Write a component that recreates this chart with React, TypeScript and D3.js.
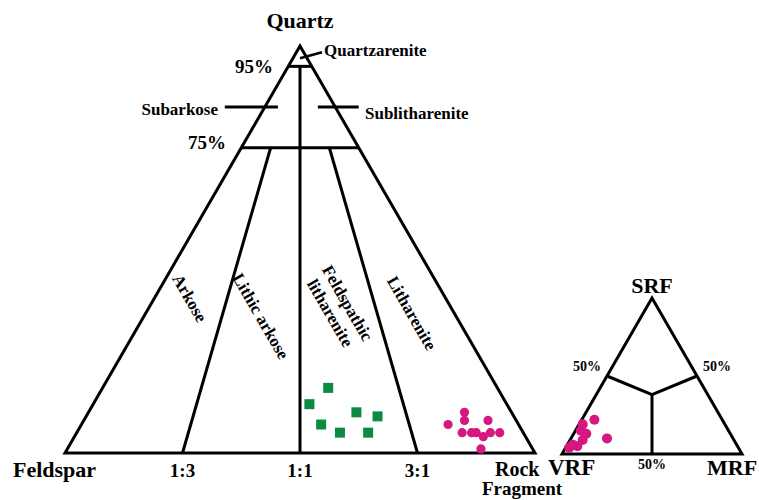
import React from 'react';
import * as d3 from 'd3';

// QFR compositions (percent Quartz, Feldspar, Rock fragment)
const squarePoints: [number, number, number][] = [
  [16, 36, 48], [12, 42, 46], [10, 33, 57], [9, 29, 62], [7, 42, 51], [5, 39, 56], [5, 33, 62],
];
const circlePoints: [number, number, number][] = [
  [10, 10, 80], [8, 11, 81], [8, 6, 86], [7, 15, 78], [5, 13, 82], [5, 11, 84],
  [5, 10, 85], [4, 9, 87], [5, 7, 88], [5, 5, 90], [1, 11, 88],
];
// rock fragment compositions (percent SRF, VRF, MRF)
const rfPoints: [number, number, number][] = [
  [22, 71, 7], [19, 79, 2], [15, 82, 3], [13, 80, 7], [10, 70, 20],
  [9, 84, 7], [6, 91, 3], [5, 89, 6], [4, 94, 2],
];

const quartzLevels = [95, 75];
const ratioLabels = ['1:3', '1:1', '3:1'];
const ratioValues = [0.25, 0.5, 0.75];
const fieldLabels = ['Arkose', 'Lithic arkose', 'Litharenite'];

const FONT = '"Liberation Serif", "Times New Roman", serif';
const GREEN = '#0c8a41';
const PINK = '#d6177f';

// main triangle scales
const mx = d3.scaleLinear().domain([0, 1]).range([65, 535]);
const my = d3.scaleLinear().domain([0, 1]).range([453, 46]);
// top = apex fraction, right = right-vertex fraction
const mainPt = (top: number, right: number): [number, number] => [mx(right + top / 2), my(top)];

// small triangle scales
const sx = d3.scaleLinear().domain([0, 1]).range([562, 742]);
const sy = d3.scaleLinear().domain([0, 1]).range([454, 298]);
const smallPt = (top: number, right: number): [number, number] => [sx(right + top / 2), sy(top)];

const line = d3.line();

const App = () => {
  const W = 759;
  const H = 500;

  const outline = line([mainPt(1, 0), mainPt(0, 0), mainPt(0, 1)]) + 'Z';

  // quartz level lines
  const levelLines = quartzLevels.map(q => {
    const t = q / 100;
    return line([mainPt(t, 0), mainPt(t, 1 - t)]);
  });

  // ratio lines start at 75% (1:1 from 95%)
  const ratioLines = ratioValues.map(r => {
    const top = r === 0.5 ? 0.95 : 0.75;
    return line([mainPt(top, r * (1 - top)), mainPt(0, r)]);
  });

  const subTickL = line([mainPt(0.85, -0.085), mainPt(0.85, 0.028)]);
  const subTickR = line([mainPt(0.85, 0.113), mainPt(0.85, 0.2)]);
  const qaStart = mainPt(0.97, 0.015);
  const qaLeader = line([qaStart, [qaStart[0] + 22, qaStart[1] - 6]]);

  const smallOutline = line([smallPt(1, 0), smallPt(0, 0), smallPt(0, 1)]) + 'Z';
  const junction = smallPt(0.38, 0.31);
  const smallInner = [
    line([smallPt(0.5, 0), junction]),
    line([smallPt(0.5, 0.5), junction]),
    line([smallPt(0, 0.5), junction]),
  ];

  const bottomY = my(0) + 24;
  const fieldPos: [number, number][] = [[190, 298], [261, 316], [412, 313]];

  return (
    <svg width={W} height={H} style={{ position: 'absolute', left: 0, top: 0, background: '#fff' }}
      fontFamily={FONT} fontWeight="bold">
      <g fill="none" stroke="#000" strokeWidth={3} strokeLinejoin="miter">
        <path d={outline} />
        {levelLines.map((d, i) => <path key={'l' + i} d={d!} />)}
        {ratioLines.map((d, i) => <path key={'r' + i} d={d!} />)}
        <path d={subTickL!} />
        <path d={subTickR!} />
        <path d={qaLeader!} strokeWidth={2.5} />
        <path d={smallOutline} />
        {smallInner.map((d, i) => <path key={'s' + i} d={d!} />)}
      </g>

      {squarePoints.map(([q, f, r], i) => {
        const [x, y] = mainPt(q / 100, r / 100);
        return <rect key={'sq' + i} x={x - 5} y={y - 5} width={10} height={10} fill={GREEN} />;
      })}
      {circlePoints.map(([q, f, r], i) => {
        const [x, y] = mainPt(q / 100, r / 100);
        return <circle key={'c' + i} cx={x} cy={y} r={4.6} fill={PINK} />;
      })}
      {rfPoints.map(([s, v, m], i) => {
        const [x, y] = smallPt(s / 100, m / 100);
        return <circle key={'rf' + i} cx={x} cy={y} r={5} fill={PINK} />;
      })}

      {/* main triangle text */}
      <text x={mainPt(1, 0)[0]} y={28} fontSize={22} textAnchor="middle">Quartz</text>
      <text x={324} y={56} fontSize={17}>Quartzarenite</text>
      <text x={273} y={73} fontSize={19} textAnchor="end">95%</text>
      <text x={226} y={149} fontSize={19} textAnchor="end">75%</text>
      <text x={218} y={115} fontSize={17} textAnchor="end">Subarkose</text>
      <text x={365} y={119} fontSize={17}>Sublitharenite</text>

      {fieldLabels.map((t, i) => (
        <text key={'f' + i} transform={`translate(${fieldPos[i][0]},${fieldPos[i][1]}) rotate(60)`}
          fontSize={17} textAnchor="middle" dy="0.35em">{t}</text>
      ))}
      <g transform="translate(339,308) rotate(60)" fontSize={17} textAnchor="middle">
        <text y={-10} dy="0.35em">Feldspathic</text>
        <text y={10} dy="0.35em">litharenite</text>
      </g>

      <text x={13} y={bottomY} fontSize={22}>Feldspar</text>
      {ratioLabels.map((t, i) => (
        <text key={'rl' + i} x={mainPt(0, ratioValues[i])[0]} y={bottomY} fontSize={19} textAnchor="middle">{t}</text>
      ))}
      <text x={495} y={bottomY - 1} fontSize={20}>Rock</text>
      <text x={482} y={bottomY + 18} fontSize={19}>Fragment</text>

      {/* small triangle text */}
      <text x={smallPt(1, 0)[0]} y={293} fontSize={22} textAnchor="middle">SRF</text>
      <text x={548} y={475} fontSize={23}>VRF</text>
      <text x={707} y={475} fontSize={22}>MRF</text>
      <text x={573} y={371} fontSize={14}>50%</text>
      <text x={703} y={371} fontSize={14}>50%</text>
      <text x={smallPt(0, 0.5)[0]} y={469} fontSize={14} textAnchor="middle">50%</text>
    </svg>
  );
};

export default App;
